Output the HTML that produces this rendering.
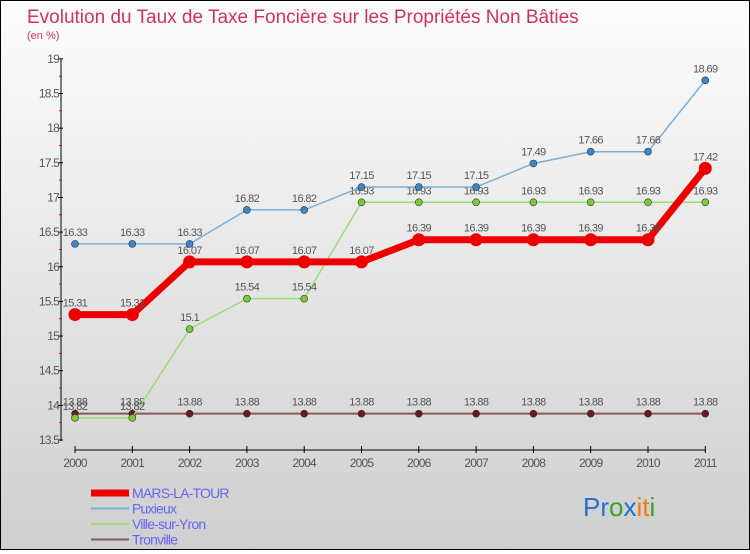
<!DOCTYPE html>
<html><head><meta charset="utf-8"><style>
body{margin:0;width:750px;height:550px;overflow:hidden;font-family:"Liberation Sans",sans-serif}
#wrap{position:relative;width:748px;height:548px;border:1px solid #000;background:linear-gradient(#fdfdfd,#cfcfcf)}
</style></head><body>
<div id="wrap">
<svg id="chart" width="748" height="548"></svg>
</div>
<script>
const years=["2000","2001","2002","2003","2004","2005","2006","2007","2008","2009","2010","2011"];
const mars=[15.31,15.31,16.07,16.07,16.07,16.07,16.39,16.39,16.39,16.39,16.39,17.42];
const puxieux=[16.33,16.33,16.33,16.82,16.82,17.15,17.15,17.15,17.49,17.66,17.66,18.69];
const ville=[13.82,13.82,15.1,15.54,15.54,16.93,16.93,16.93,16.93,16.93,16.93,16.93];
const tronville=[13.88,13.88,13.88,13.88,13.88,13.88,13.88,13.88,13.88,13.88,13.88,13.88];
const yTicks=[13.5,14,14.5,15,15.5,16,16.5,17,17.5,18,18.5,19];
const svg=document.getElementById('chart');const NS='http://www.w3.org/2000/svg';
function X(i){return 74+i*57.3;}
function Y(v){return 439-(v-13.5)*69.3;}
function mk(t,a,p){const e=document.createElementNS(NS,t);for(const k in a)e.setAttribute(k,a[k]);(p||svg).appendChild(e);return e;}
let t=mk('text',{x:26,y:22,'font-size':19,fill:'#d0306a'});t.textContent='Evolution du Taux de Taxe Foncière sur les Propriétés Non Bâties';

t=mk('text',{x:26,y:38,'font-size':11,fill:'#d0306a'});t.textContent='(en %)';

let ax=mk('line',{x1:60,y1:58,x2:60,y2:440,stroke:'#000'});

yTicks.forEach((v,i)=>{const y=Y(v);mk('line',{x1:57,y1:y,x2:62,y2:y,stroke:'#000'});
if(i<yTicks.length-1)mk('line',{x1:58,y1:Y(v+0.25),x2:61,y2:Y(v+0.25),stroke:'#e00'});
const l=mk('text',{x:58,y:y+4,'font-size':12,'text-anchor':'end',fill:'#555','letter-spacing':'-0.8'});l.textContent=v;
});
let xa=mk('line',{x1:X(0),y1:449,x2:X(11),y2:449,stroke:'#000'});

years.forEach((yr,i)=>{mk('line',{x1:X(i),y1:445,x2:X(i),y2:452,stroke:'#000'});
const l=mk('text',{x:X(i),y:466,'font-size':12,'text-anchor':'middle',fill:'#555','letter-spacing':'-0.8'});l.textContent=yr;
});
function series(data,color,w,r,dot,name){const g=mk('g',{});

mk('polyline',{points:data.map((v,i)=>X(i)+','+Y(v)).join(' '),fill:'none',stroke:color,'stroke-width':w,'stroke-linejoin':'round'},g);
data.forEach((v,i)=>{const c=mk('circle',{cx:X(i),cy:Y(v),r:r,fill:dot,stroke:'#333','stroke-width':r>5?0:0.6},g);

const l=mk('text',{x:X(i),y:Y(v)-8,'font-size':11,'text-anchor':'middle',fill:'#555','letter-spacing':'-0.6'},g);l.textContent=v;});}
series(tronville,'#8a5a5a',2,3.5,'#6b1a1a','tronville');
series(ville,'#99dd77',1.5,3.5,'#77cc33','ville-sur-yron');
series(puxieux,'#7ab0d8',1.5,3.5,'#3a88c8','puxieux');
series(mars,'#ee0000',7,6.5,'#ee0000','mars-la-tour');
const leg=[['MARS-LA-TOUR','#ee0000',7],['Puxieux','#7ab0d8',2],['Ville-sur-Yron','#99dd77',2],['Tronville','#8a5a5a',2]];
leg.forEach((L,i)=>{const g=mk('g',{});
const y=492+i*15.5;mk('line',{x1:90,y1:y,x2:128,y2:y,stroke:L[1],'stroke-width':L[2]},g);
const tx=mk('text',{x:131,y:y+5,'font-size':14,fill:'#6666ee','letter-spacing':'-0.8'},g);tx.textContent=L[0];});
const p=mk('text',{x:582,y:515,'font-size':26});
[['Pr','#2a6ed0'],['o','#3aa030'],['x','#1a70d8'],['i','#f07a10'],['t','#f07a10'],['i','#3aa030']].forEach(s=>{const ts=mk('tspan',{fill:s[1]},p);ts.textContent=s[0];});
</script>
</body></html>
